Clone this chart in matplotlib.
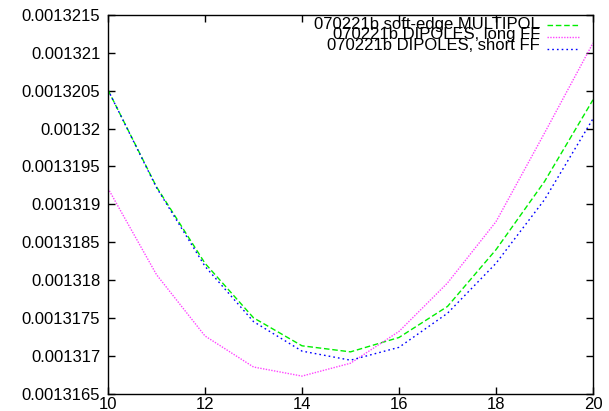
import matplotlib
matplotlib.use("Agg")
import matplotlib.pyplot as plt
from matplotlib.lines import Line2D

plt.rcParams['font.family'] = ['Liberation Sans', 'DejaVu Sans']

x = [10, 11, 12, 13, 14, 15, 16, 17, 18, 19, 20]
multipol = [0.00132051, 0.00131923, 0.00131822, 0.00131750, 0.00131713, 0.00131705,
            0.00131724, 0.00131765, 0.00131840, 0.00131930, 0.00132038]
long_ff = [0.00131921, 0.00131807, 0.00131726, 0.00131685, 0.00131673, 0.00131690,
           0.00131732, 0.00131796, 0.00131877, 0.00131994, 0.00132113]
short_ff = [0.00132051, 0.00131922, 0.00131818, 0.00131745, 0.00131706, 0.00131694,
            0.00131711, 0.00131756, 0.00131822, 0.00131906, 0.00132013]
labels = ["070221b soft-edge MULTIPOL", "070221b DIPOLES, long FF", "070221b DIPOLES, short FF"]
xticks = [10, 12, 14, 16, 18, 20]
yticks = [0.0013165, 0.001317, 0.0013175, 0.001318, 0.0013185, 0.001319,
          0.0013195, 0.00132, 0.0013205, 0.001321, 0.0013215]
ytick_labels = ["0.0013165", "0.001317", "0.0013175", "0.001318", "0.0013185", "0.001319",
                "0.0013195", "0.00132", "0.0013205", "0.001321", "0.0013215"]

W, H = 609, 411
fig = plt.figure(figsize=(W / 100, H / 100), dpi=100)
L, R, T, B = 108, 593, 15, 393.5
ax = fig.add_axes([L / W, 1 - B / H, (R - L) / W, (B - T) / H])

styles = [
    dict(color='#00ee00', dashes=(4, 2), lw=1.0),
    dict(color='#ff44ff', dashes=(1, 1), lw=1.0),
    dict(color='#0000ff', dashes=(1.2, 2.2), lw=1.0),
]
series = [multipol, long_ff, short_ff]
for s, st in zip(series, styles):
    ax.plot(x, s, **st)

ax.set_xlim(10, 20)
ax.set_ylim(0.0013165, 0.0013215)
ax.set_xticks(xticks)
ax.set_xticklabels([str(t) for t in xticks])
ax.set_yticks(yticks)
ax.set_yticklabels(ytick_labels)
ax.tick_params(direction='in', length=5, width=1, top=True, right=True,
               labelsize=12, colors='black')
ax.tick_params(axis='y', pad=5.5)
ax.tick_params(axis='x', pad=2.5)
for sp in ax.spines.values():
    sp.set_linewidth(1.0)
    sp.set_color('black')

# legend (gnuplot style, no box)
text_y = [24, 34.5, 45]
line_y = [25, 37, 49]
for lab, st, ty, ly in zip(labels, styles, text_y, line_y):
    fig.text(540 / W, 1 - ty / H, lab, ha='right', va='center', fontsize=12)
    fig.add_artist(Line2D([547 / W, 580 / W], [1 - ly / H, 1 - ly / H],
                          transform=fig.transFigure, **st))

fig.savefig("out.png", dpi=100)
